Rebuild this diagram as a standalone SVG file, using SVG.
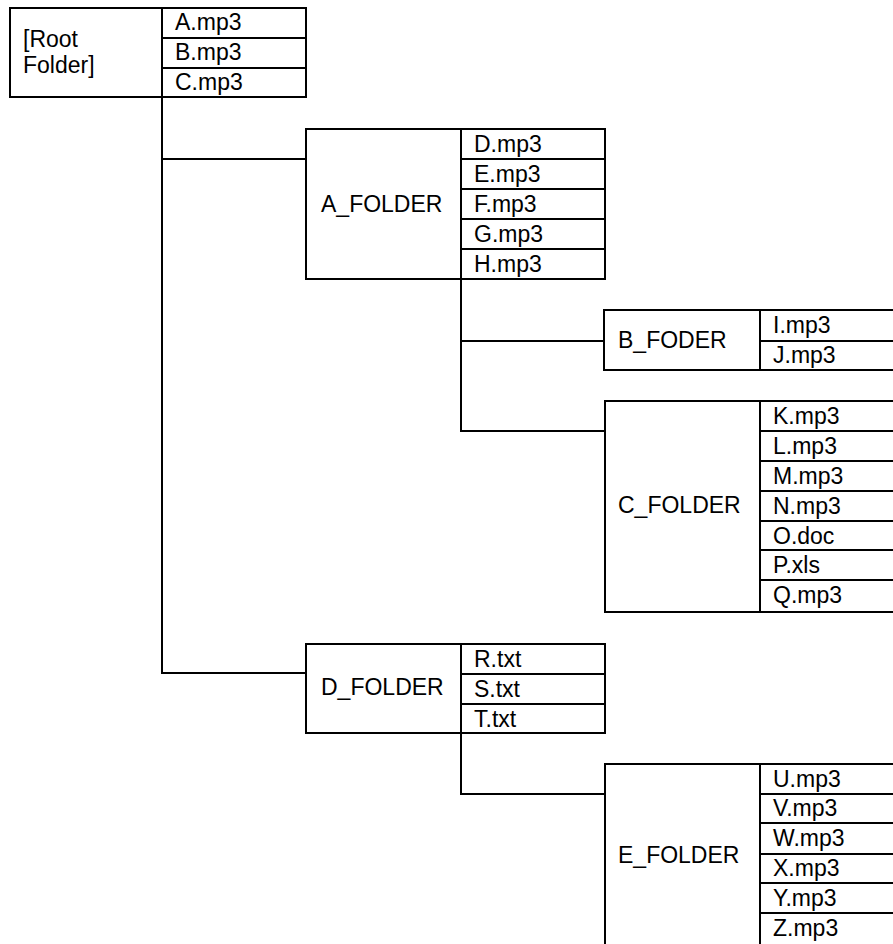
<svg xmlns="http://www.w3.org/2000/svg" width="893" height="944" viewBox="0 0 893 944">
<style>
rect, line, path { fill: none; stroke: #000; stroke-width: 2; }
text { font-family: "Liberation Sans", Arial, sans-serif; font-size: 23px; fill: #000; }
</style>
<rect x="0" y="0" width="893" height="944" style="fill:#fff;stroke:none"/>
<g id="connectors">
  <path d="M162 97 V673 H306"/>
  <path d="M162 159 H306"/>
  <path d="M461 279 V431 H605"/>
  <path d="M461 341 H604"/>
  <path d="M461 733 V794 H605"/>
</g>
<g id="root">
  <rect x="10" y="8" width="296" height="89"/>
  <line x1="162" y1="8" x2="162" y2="97"/>
  <line x1="162" y1="38" x2="306" y2="38"/>
  <line x1="162" y1="68" x2="306" y2="68"/>
  <text x="23" y="47">[Root</text>
  <text x="23" y="73">Folder]</text>
  <text x="175" y="30">A.mp3</text>
  <text x="175" y="60">B.mp3</text>
  <text x="175" y="90">C.mp3</text>
</g>
<g id="a_folder">
  <rect x="306" y="129" width="299" height="150"/>
  <line x1="461" y1="129" x2="461" y2="279"/>
  <line x1="461" y1="159" x2="605" y2="159"/>
  <line x1="461" y1="189" x2="605" y2="189"/>
  <line x1="461" y1="219" x2="605" y2="219"/>
  <line x1="461" y1="249" x2="605" y2="249"/>
  <text x="321" y="212">A_FOLDER</text>
  <text x="474" y="152">D.mp3</text>
  <text x="474" y="182">E.mp3</text>
  <text x="474" y="212">F.mp3</text>
  <text x="474" y="242">G.mp3</text>
  <text x="474" y="272">H.mp3</text>
</g>
<g id="b_foder">
  <rect x="604" y="310" width="300" height="60"/>
  <line x1="760" y1="310" x2="760" y2="370"/>
  <line x1="760" y1="341" x2="900" y2="341"/>
  <text x="618" y="348">B_FODER</text>
  <text x="773" y="333">I.mp3</text>
  <text x="773" y="363">J.mp3</text>
</g>
<g id="c_folder">
  <rect x="605" y="401" width="300" height="211"/>
  <line x1="760" y1="401" x2="760" y2="612"/>
  <line x1="760" y1="431" x2="900" y2="431"/>
  <line x1="760" y1="461" x2="900" y2="461"/>
  <line x1="760" y1="491" x2="900" y2="491"/>
  <line x1="760" y1="521" x2="900" y2="521"/>
  <line x1="760" y1="550" x2="900" y2="550"/>
  <line x1="760" y1="580" x2="900" y2="580"/>
  <text x="618" y="513">C_FOLDER</text>
  <text x="773" y="424">K.mp3</text>
  <text x="773" y="454">L.mp3</text>
  <text x="773" y="484">M.mp3</text>
  <text x="773" y="514">N.mp3</text>
  <text x="773" y="544">O.doc</text>
  <text x="773" y="573">P.xls</text>
  <text x="773" y="603">Q.mp3</text>
</g>
<g id="d_folder">
  <rect x="306" y="644" width="299" height="89"/>
  <line x1="461" y1="644" x2="461" y2="733"/>
  <line x1="461" y1="674" x2="605" y2="674"/>
  <line x1="461" y1="704" x2="605" y2="704"/>
  <text x="321" y="695">D_FOLDER</text>
  <text x="474" y="667">R.txt</text>
  <text x="474" y="697">S.txt</text>
  <text x="474" y="727">T.txt</text>
</g>
<g id="e_folder">
  <rect x="605" y="764" width="300" height="190"/>
  <line x1="760" y1="764" x2="760" y2="954"/>
  <line x1="760" y1="794" x2="900" y2="794"/>
  <line x1="760" y1="823" x2="900" y2="823"/>
  <line x1="760" y1="854" x2="900" y2="854"/>
  <line x1="760" y1="883" x2="900" y2="883"/>
  <line x1="760" y1="913" x2="900" y2="913"/>
  <text x="618" y="863">E_FOLDER</text>
  <text x="773" y="787">U.mp3</text>
  <text x="773" y="816">V.mp3</text>
  <text x="773" y="846">W.mp3</text>
  <text x="773" y="876">X.mp3</text>
  <text x="773" y="906">Y.mp3</text>
  <text x="773" y="936">Z.mp3</text>
</g>
</svg>
